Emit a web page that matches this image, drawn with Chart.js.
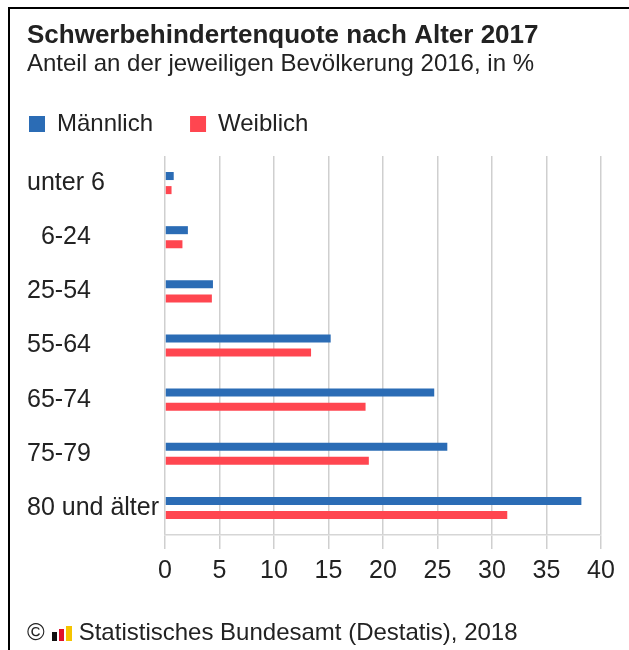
<!DOCTYPE html>
<html lang="de">
<head>
  <meta charset="UTF-8">
  <title>Schwerbehindertenquote nach Alter 2017</title>
  <script src="https://cdn.jsdelivr.net/npm/chart.js"></script>
  <style>
    body {
      margin: 0;
      background: #fff;
      font-family: 'Liberation Sans', Arial, sans-serif;
    }

    .wrap {
      position: relative;
      width: 629px;
      height: 650px;
      overflow: hidden;
    }

    .frame {
      position: absolute;
      left: 8px;
      top: 7px;
      width: 700px;
      height: 700px;
      border-left: 2px solid #000;
      border-top: 2px solid #000;
      pointer-events: none;
    }

    .footer {
      position: absolute;
      left: 27px;
      top: 618px;
      font-size: 24px;
      line-height: 28px;
      color: #222;
      white-space: nowrap;
    }

    .logo {
      display: inline-block;
      width: 20px;
      height: 15px;
      margin: 0 7px 0 7px;
      vertical-align: -1px;
      position: relative;
    }

    .logo span {
      position: absolute;
      bottom: 0;
    }
  </style>
</head>
<body>

  <div class="wrap">
    <canvas id="chart"></canvas>
    <div class="frame"></div>
    <div class="footer">©<span class="logo">
        <span style="left:0;width:5px;height:9px;background:#111"></span>
        <span style="left:7px;width:5px;height:12px;background:#e0102a"></span>
        <span style="left:14px;width:6px;height:15px;background:#f5c400"></span>
      </span>Statistisches Bundesamt (Destatis), 2018</div>
  </div>

  <script>
    const categories = ['unter 6', '  6-24', '25-54', '55-64', '65-74', '75-79', '80 und älter'];
    const maennlich = [0.8, 2.1, 4.4, 15.2, 24.7, 25.9, 38.2];
    const weiblich = [0.6, 1.6, 4.3, 13.4, 18.4, 18.7, 31.4];
    const xTicks = [0, 5, 10, 15, 20, 25, 30, 35, 40];

    const textColor = '#222';
    const font = 'Liberation Sans';

    const canvas = document.getElementById('chart');
    canvas.width = 629;
    canvas.height = 650;

    // legend: box flush with the title, extra space below it
    const legendTweak = {
      id: 'legendTweak',
      beforeInit(chart) {
        const fit = chart.legend.fit;
        chart.legend.fit = function () {
          fit.call(this);
          this.height += 10;
        };
      },
      afterLayout(chart) {
        chart.legend.left -= chart.legend.options.labels.padding - 2;
      }
    };

    const config = {
      type: 'bar',
      data: {
        labels: categories,
        datasets: [{
          label: 'Männlich',
          data: maennlich,
          backgroundColor: '#2b6cb5',
          barPercentage: 0.57,
          categoryPercentage: 0.52
        },
        {
          label: 'Weiblich',
          data: weiblich,
          backgroundColor: '#ff4650',
          barPercentage: 0.57,
          categoryPercentage: 0.52
        }]
      },
      options: {
        indexAxis: 'y',
        responsive: false,
        animation: false,
        layout: {
          padding: {left: 27, right: 28, top: 0, bottom: 57}
        },
        plugins: {
          title: {
            display: true,
            text: 'Schwerbehindertenquote nach Alter 2017',
            align: 'start',
            color: textColor,
            font: {family: font, size: 26, weight: 'bold', lineHeight: 0.9},
            padding: {top: 24, bottom: 0}
          },
          subtitle: {
            display: true,
            text: 'Anteil an der jeweiligen Bevölkerung 2016, in %',
            align: 'start',
            color: textColor,
            font: {family: font, size: 24, lineHeight: 0.9},
            padding: {top: 6, bottom: 0}
          },
          legend: {
            align: 'start',
            labels: {
              color: textColor,
              font: {family: font, size: 24},
              boxWidth: 16,
              boxHeight: 16,
              padding: 37
            }
          },
          tooltip: {enabled: false}
        },
        scales: {
          x: {
            min: 0,
            max: 40,
            afterBuildTicks: axis => {
              axis.ticks = xTicks.map(v => ({value: v}));
            },
            grid: {color: '#cfcfcf', lineWidth: 1.5, tickLength: 14},
            border: {display: true, color: '#d6d6d6', width: 1.5},
            ticks: {
              color: textColor,
              font: {family: font, size: 25},
              padding: 7
            }
          },
          y: {
            grid: {display: false},
            border: {display: false},
            afterFit: axis => {
              axis.width = 138;
            },
            ticks: {
              color: textColor,
              crossAlign: 'far',
              font: {family: font, size: 25}
            }
          }
        }
      },
      plugins: [legendTweak]
    };

    const chart = new Chart(canvas.getContext('2d'), config);
  </script>

</body>
</html>
